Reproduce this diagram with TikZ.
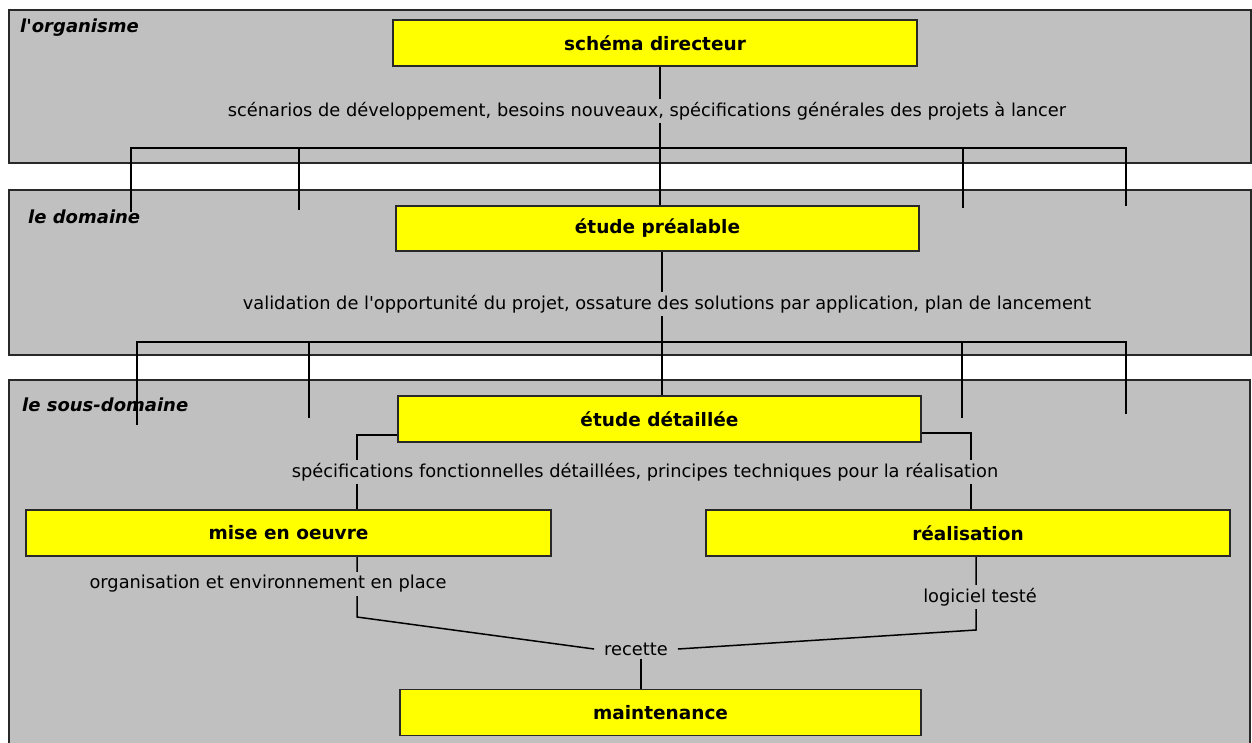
\documentclass[tikz,border=0pt]{standalone}
\usepackage{fontspec}
\setmainfont{DejaVu Sans}[Ligatures=TeXOff]
\definecolor{panelgray}{RGB}{192,192,192}
\definecolor{boxyellow}{RGB}{255,255,0}
\definecolor{edge}{RGB}{40,40,40}
\begin{document}
\begin{tikzpicture}[x=1pt,y=-1pt,
  panel/.style={draw=edge, line width=1.2pt, fill=panelgray},
  box/.style={draw=edge, line width=1.6pt, fill=boxyellow, minimum height=46pt, inner sep=0pt,
    font=\fontsize{18.5}{20}\selectfont\bfseries},
  wire/.style={line width=1.5pt, draw=black},
  lbl/.style={fill=panelgray, inner sep=3pt, font=\fontsize{17.8}{19}\selectfont},
  paneltitle/.style={anchor=west, inner sep=0pt, font=\fontsize{18}{20}\selectfont\bfseries\itshape}]
\clip (0,0) rectangle (1252,742);
\fill[white] (0,0) rectangle (1252,742);
% panels
\draw[panel] (9,10) rectangle (1251,163);
\draw[panel] (9,190) rectangle (1251,355);
\draw[panel] (9,380) rectangle (1250,760);
\node[paneltitle] (t1) at (20,28) {l'organisme};
\node[paneltitle] (t2) at (28,217) {le domaine};
\node[paneltitle] (t3) at (22,405) {le sous-domaine};
% boxes (positions)
\node[box, minimum width=524pt] (sd) at (655,43) {schéma directeur};
\node[box, minimum width=523pt, minimum height=45pt] (ep) at (657.5,228.5) {étude préalable};
\node[box, minimum width=523pt] (ed) at (659.5,419) {étude détaillée};
\node[box, minimum width=525pt] (meo) at (288.5,533) {mise en oeuvre};
\node[box, minimum width=524pt] (real) at (968,533) {réalisation};
\node[box, minimum width=521pt] (mnt) at (660.5,712.5) {maintenance};
% helper coordinates
\coordinate (c1) at (660,0);
\coordinate (c2) at (662,0);
\coordinate (bus1) at (0,148);
\coordinate (a1) at (131,212);
\coordinate (a2) at (299,210);
\coordinate (a3) at (963,208);
\coordinate (a4) at (1126,206);
\coordinate (bus2) at (0,342);
\coordinate (b1) at (137,425);
\coordinate (b2) at (309,418);
\coordinate (b3) at (962,418);
\coordinate (b4) at (1126,414);
\coordinate (L) at (357,435);
\coordinate (R) at (971,433);
\coordinate (m1) at (357,617);
\coordinate (r1) at (976,630);
\coordinate (v) at (641,0);
% wires
\draw[wire] (sd.south -| c1) -- (ep.north -| c1);
\draw[wire] (a1) |- (a4 |- bus1) -- (a4);
\draw[wire] (a2 |- bus1) -- (a2);
\draw[wire] (a3 |- bus1) -- (a3);
\draw[wire] (ep.south -| c2) -- (ed.north -| c2);
\draw[wire] (b1) |- (b4 |- bus2) -- (b4);
\draw[wire] (b2 |- bus2) -- (b2);
\draw[wire] (b3 |- bus2) -- (b3);
\draw[wire] (ed.west |- L) -| (meo.north -| L);
\draw[wire] (ed.east |- R) -| (real.north -| R);
\node[lbl, inner xsep=10pt] (rec) at (636,649) {recette};
\draw[wire] (meo.south -| m1) -- (m1) -- (rec.west);
\draw[wire] (real.south -| r1) -- (r1) -- (rec.east);
\draw[wire] (rec.south -| v) -- (mnt.north -| v);
% redraw boxes over wires
\node[box, minimum width=524pt] at (sd) {schéma directeur};
\node[box, minimum width=523pt, minimum height=45pt] at (ep) {étude préalable};
\node[box, minimum width=523pt] at (ed) {étude détaillée};
\node[box, minimum width=525pt] at (meo) {mise en oeuvre};
\node[box, minimum width=524pt] at (real) {réalisation};
\node[box, minimum width=521pt] at (mnt) {maintenance};
% texts on wires
\node[lbl] (s1) at (647,111) {scénarios de développement, besoins nouveaux, spécifications générales des projets à lancer};
\node[lbl] (s2) at (667,304) {validation de l'opportunité du projet, ossature des solutions par application, plan de lancement};
\node[lbl] (s3) at (645,472) {spécifications fonctionnelles détaillées, principes techniques pour la réalisation};
\node[lbl] (s4) at (268,584) {organisation et environnement en place};
\node[lbl] (s5) at (980,597) {logiciel testé};
\end{tikzpicture}
\end{document}
